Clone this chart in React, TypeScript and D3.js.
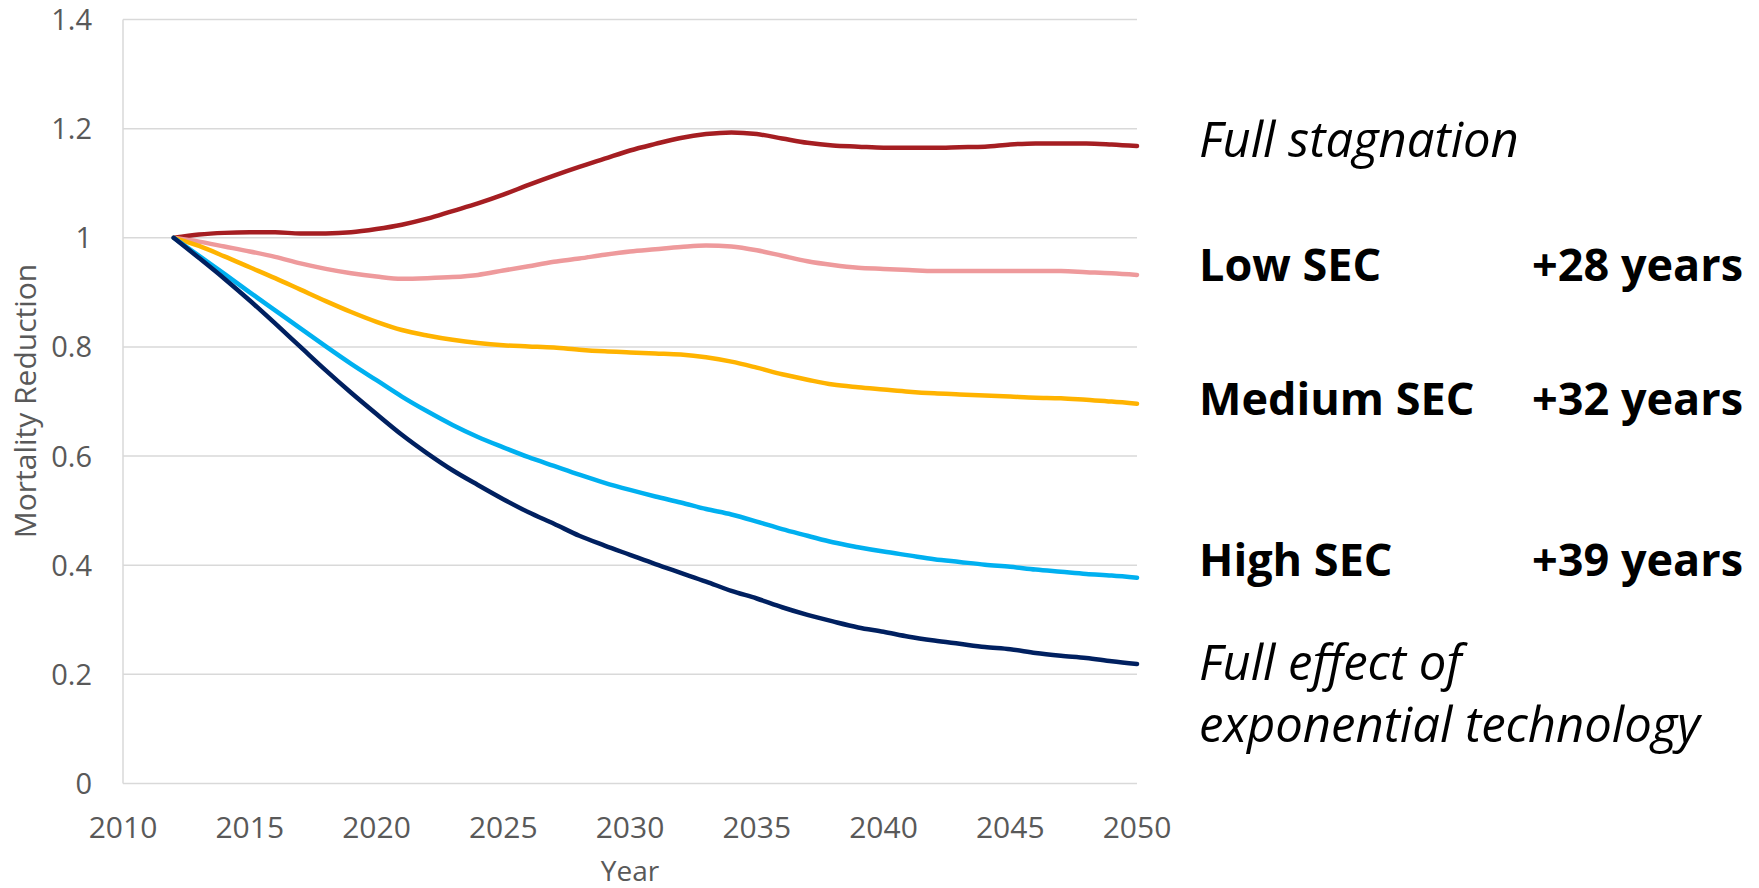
import { useEffect, useRef } from 'react';
import * as d3 from 'd3';

const years = d3.range(2012, 2051);

const fullStagnation = [
  1.000, 1.006, 1.009, 1.010, 1.010, 1.008, 1.008, 1.010, 1.016, 1.024,
  1.035, 1.049, 1.063, 1.079, 1.097, 1.114, 1.130, 1.145, 1.160, 1.172,
  1.183, 1.190, 1.193, 1.190, 1.182, 1.174, 1.169, 1.167, 1.165, 1.165,
  1.165, 1.166, 1.167, 1.171, 1.173, 1.173, 1.173, 1.171, 1.168,
];

const lowSec = [
  1.000, 0.993, 0.984, 0.975, 0.965, 0.953, 0.943, 0.935, 0.929, 0.925,
  0.926, 0.928, 0.932, 0.940, 0.948, 0.956, 0.962, 0.969, 0.975, 0.979,
  0.983, 0.986, 0.984, 0.977, 0.967, 0.957, 0.950, 0.945, 0.943, 0.941,
  0.939, 0.939, 0.939, 0.939, 0.939, 0.939, 0.937, 0.935, 0.932,
];

const mediumSec = [
  1.000, 0.985, 0.966, 0.946, 0.926, 0.905, 0.884, 0.864, 0.846, 0.831,
  0.821, 0.813, 0.807, 0.803, 0.801, 0.799, 0.795, 0.792, 0.790, 0.788,
  0.786, 0.781, 0.773, 0.762, 0.750, 0.740, 0.731, 0.726, 0.722, 0.718,
  0.715, 0.713, 0.711, 0.709, 0.707, 0.706, 0.703, 0.700, 0.696,
];

const highSec = [
  1.000, 0.967, 0.934, 0.900, 0.867, 0.834, 0.801, 0.769, 0.739, 0.709,
  0.682, 0.657, 0.635, 0.616, 0.598, 0.582, 0.566, 0.551, 0.538, 0.526,
  0.515, 0.503, 0.493, 0.480, 0.466, 0.454, 0.442, 0.433, 0.425, 0.418,
  0.411, 0.406, 0.401, 0.397, 0.392, 0.388, 0.384, 0.381, 0.377,
];

const fullEffect = [
  1.000, 0.963, 0.925, 0.885, 0.843, 0.800, 0.757, 0.716, 0.677, 0.639,
  0.605, 0.574, 0.547, 0.521, 0.497, 0.476, 0.454, 0.436, 0.419, 0.402,
  0.386, 0.370, 0.353, 0.339, 0.323, 0.309, 0.297, 0.286, 0.278, 0.269,
  0.262, 0.256, 0.250, 0.246, 0.239, 0.234, 0.230, 0.224, 0.219,
];

const xTicks = [2010, 2015, 2020, 2025, 2030, 2035, 2040, 2045, 2050];
const yTicks = [0, 0.2, 0.4, 0.6, 0.8, 1, 1.2, 1.4];

const series = [
  { name: 'Full stagnation', values: fullStagnation, color: '#A51E22' },
  { name: 'Low SEC', values: lowSec, color: '#EE9A9C' },
  { name: 'Medium SEC', values: mediumSec, color: '#FFB300' },
  { name: 'High SEC', values: highSec, color: '#00B0F0' },
  { name: 'Full effect of exponential technology', values: fullEffect, color: '#002060' },
];

// right-hand annotations
const annotations = [
  { lines: ['Full stagnation'], italic: true, gain: '', y: 157 },
  { lines: ['Low SEC'], italic: false, gain: '+28 years', y: 281 },
  { lines: ['Medium SEC'], italic: false, gain: '+32 years', y: 415 },
  { lines: ['High SEC'], italic: false, gain: '+39 years', y: 576 },
  { lines: ['Full effect of', 'exponential technology'], italic: true, gain: '', y: 680 },
];

const width = 1759;
const height = 888;

export default function App() {
  const svgRef = useRef<SVGSVGElement>(null);

  useEffect(() => {
    if (!svgRef.current) return;
    const svg = d3.select(svgRef.current);
    svg.selectAll('*').remove();

    const margin = { top: 19.5, left: 123, right: 622, bottom: 104.5 };
    const x = d3.scaleLinear()
      .domain([2010, 2050])
      .range([margin.left, width - margin.right]);
    const y = d3.scaleLinear()
      .domain([0, 1.4])
      .range([height - margin.bottom, margin.top]);

    const font = '"Open Sans", "Noto Sans", sans-serif';
    const labelX = 1199;
    const gainX = 1532;

    // Grid lines
    svg.append('g')
      .selectAll('line')
      .data(yTicks)
      .join('line')
      .attr('x1', x(2010))
      .attr('x2', x(2050))
      .attr('y1', d => y(d))
      .attr('y2', d => y(d))
      .attr('stroke', '#d9d9d9')
      .attr('stroke-width', 1.5);

    // Y axis line
    svg.append('line')
      .attr('x1', x(2010))
      .attr('x2', x(2010))
      .attr('y1', y(0))
      .attr('y2', y(1.4))
      .attr('stroke', '#d9d9d9')
      .attr('stroke-width', 1.5);

    // Y tick labels
    svg.append('g')
      .selectAll('text')
      .data(yTicks)
      .join('text')
      .attr('x', 92)
      .attr('y', d => y(d))
      .attr('dy', '0.36em')
      .attr('text-anchor', 'end')
      .attr('font-family', font)
      .attr('font-size', '29px')
      .attr('fill', '#595959')
      .text(d => d3.format('~g')(d));

    // X tick labels
    svg.append('g')
      .selectAll('text')
      .data(xTicks)
      .join('text')
      .attr('x', d => x(d))
      .attr('y', 838)
      .attr('text-anchor', 'middle')
      .attr('font-family', font)
      .attr('font-size', '30px')
      .attr('fill', '#595959')
      .text(d => String(d));

    // Axis titles
    svg.append('text')
      .attr('x', x(2030))
      .attr('y', 881)
      .attr('text-anchor', 'middle')
      .attr('font-family', font)
      .attr('font-size', '28px')
      .attr('fill', '#595959')
      .text('Year');

    svg.append('text')
      .attr('transform', `translate(36, 401) rotate(-90)`)
      .attr('text-anchor', 'middle')
      .attr('font-family', font)
      .attr('font-size', '30px')
      .attr('fill', '#595959')
      .text('Mortality Reduction');

    // Lines
    const line = d3.line<number>()
      .x((_, i) => x(years[i]))
      .y(d => y(d))
      .curve(d3.curveMonotoneX);

    svg.append('g')
      .selectAll('path')
      .data(series)
      .join('path')
      .attr('d', d => line(d.values))
      .attr('fill', 'none')
      .attr('stroke', d => d.color)
      .attr('stroke-width', 4.5)
      .attr('stroke-linejoin', 'round')
      .attr('stroke-linecap', 'round');

    // Annotations
    const ann = svg.append('g');
    annotations.forEach(a => {
      const t = ann.append('text')
        .attr('x', labelX)
        .attr('y', a.y)
        .attr('font-family', font)
        .attr('font-size', a.italic ? '49px' : '45px')
        .attr('font-style', a.italic ? 'italic' : 'normal')
        .attr('font-weight', a.italic ? 400 : 700)
        .attr('fill', '#000');
      a.lines.forEach((l, i) => {
        t.append('tspan')
          .attr('x', labelX)
          .attr('dy', i === 0 ? 0 : 62)
          .text(l);
      });
      if (a.gain) {
        ann.append('text')
          .attr('x', gainX)
          .attr('y', a.y)
          .attr('font-family', font)
          .attr('font-size', '45px')
          .attr('font-weight', 700)
          .attr('fill', '#000')
          .text(a.gain);
      }
    });
  }, []);

  return (
    <div style={{ position: 'absolute', left: 0, top: 0 }}>
      <svg ref={svgRef} width={width} height={height} style={{ background: '#fff', display: 'block' }} />
    </div>
  );
}
